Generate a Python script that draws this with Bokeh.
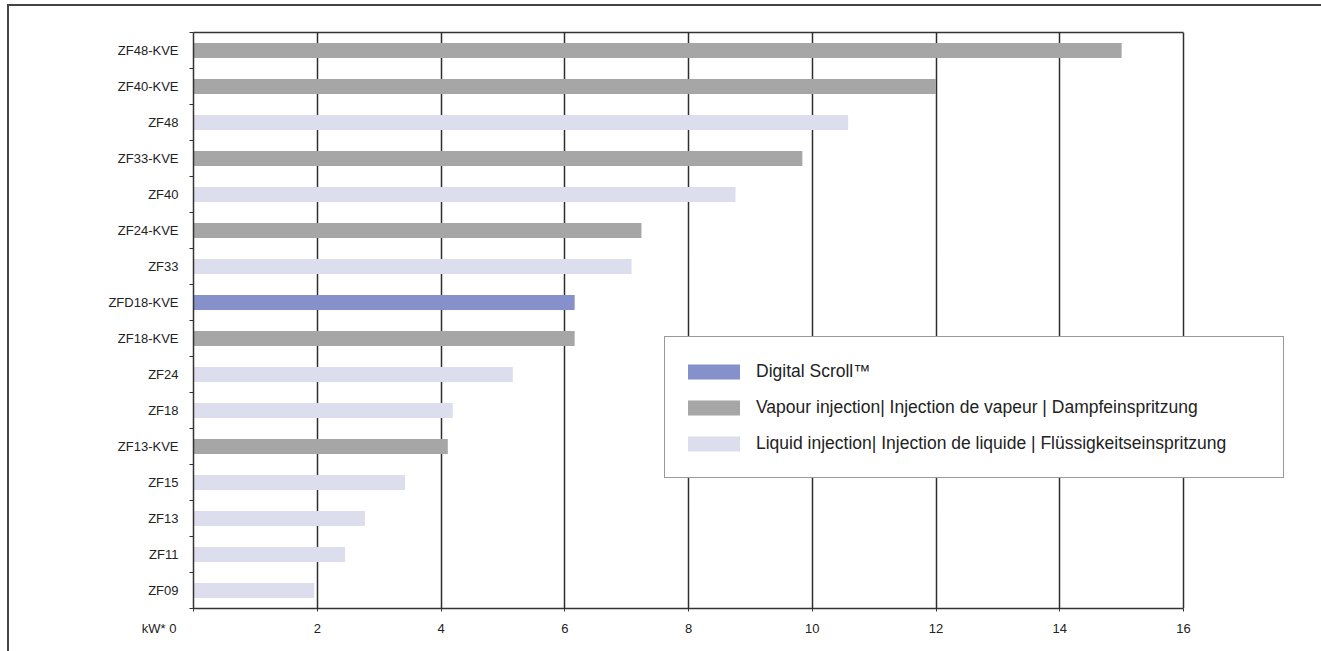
from bokeh.plotting import figure
from bokeh.models import (Range1d, FixedTicker, Legend, LegendItem,
                          ColumnDataSource, LinearAxis)
from bokeh.embed import file_html
from bokeh.resources import INLINE

# ---- data (top to bottom as in the chart) ----
models = ["ZF48-KVE", "ZF40-KVE", "ZF48", "ZF33-KVE", "ZF40", "ZF24-KVE",
          "ZF33", "ZFD18-KVE", "ZF18-KVE", "ZF24", "ZF18", "ZF13-KVE",
          "ZF15", "ZF13", "ZF11", "ZF09"]
capacity_kw = [15.0, 12.0, 10.58, 9.84, 8.76, 7.24,
               7.08, 6.16, 6.16, 5.16, 4.19, 4.11,
               3.42, 2.77, 2.45, 1.95]
kinds = ["vapour", "vapour", "liquid", "vapour", "liquid", "vapour",
         "liquid", "digital", "vapour", "liquid", "liquid", "vapour",
         "liquid", "liquid", "liquid", "liquid"]
x_ticks = [0, 2, 4, 6, 8, 10, 12, 14, 16]
x_unit = "kW*"

series_order = ["digital", "vapour", "liquid"]
series_labels = {
    "digital": "Digital Scroll\u2122",
    "vapour": "Vapour injection| Injection de vapeur | Dampfeinspritzung",
    "liquid": "Liquid injection| Injection de liquide | Fl\u00fcssigkeitseinspritzung",
}
series_colors = {"digital": "#8690cb", "vapour": "#a6a6a6", "liquid": "#dcdeee"}

FONT = "Liberation Sans"
n = len(models)
ypos = [n - 1 - i for i in range(n)]
x_min, x_max = x_ticks[0], x_ticks[-1]
# the frame is widened past the last tick so the legend box can overhang it
frame_px, axis_px = 1107, 990
x_end = x_max * frame_px / axis_px

p = figure(width=1318, height=650, output_backend="svg", toolbar_location=None,
           x_range=Range1d(x_min, x_end), y_range=Range1d(-0.5, n - 0.5),
           min_border_left=184, min_border_right=27,
           min_border_top=26, min_border_bottom=48)
p.styles = {"margin-left": "9px", "margin-top": "6px",
            "box-shadow": "-2px -2px 0px 0px #444444"}
p.background_fill_color = "white"
p.border_fill_color = "white"
p.outline_line_color = None

legend_items = []
for kind in series_order:
    idx = [i for i, k in enumerate(kinds) if k == kind]
    src = ColumnDataSource(dict(y=[ypos[i] for i in idx],
                                right=[capacity_kw[i] for i in idx]))
    r = p.hbar(y="y", right="right", left=0, height=0.42, source=src,
               fill_color=series_colors[kind], line_color=None)
    legend_items.append(LegendItem(label=series_labels[kind], renderers=[r]))

p.ygrid.grid_line_color = None
p.xgrid.ticker = FixedTicker(ticks=x_ticks[1:])
p.xgrid.grid_line_color = "#2e2e2e"
p.xgrid.grid_line_width = 1.5

# bottom x axis; zero label carries the unit, padded so it sits left of the axis
xa = p.xaxis[0]
xa.bounds = (x_min, x_max)
xa.ticker = FixedTicker(ticks=x_ticks)
xa.major_label_overrides = {0: x_unit + " 0" + "\u00a0" * 19}
xa.axis_line_color = "#333333"
xa.axis_line_width = 1.5
xa.major_tick_line_color = "#333333"
xa.major_tick_in = 0
xa.major_tick_out = 3
xa.minor_tick_line_color = None
xa.major_label_standoff = 9
xa.major_label_text_font = FONT
xa.major_label_text_font_size = "13px"
xa.major_label_text_color = "#222222"

# top border of the plot box
top_axis = LinearAxis(bounds=(x_min, x_max), ticker=FixedTicker(ticks=[]),
                      axis_line_color="#333333", axis_line_width=1.5,
                      major_tick_line_color=None, minor_tick_line_color=None,
                      major_label_text_font_size="0px", major_label_standoff=0)
p.add_layout(top_axis, "above")

ya = p.yaxis[0]
ya.ticker = FixedTicker(ticks=sorted(ypos),
                        minor_ticks=[b - 0.5 for b in range(n + 1)])
ya.major_label_overrides = {ypos[i]: models[i] for i in range(n)}
ya.axis_line_color = "#333333"
ya.axis_line_width = 1.5
ya.major_tick_line_color = None
ya.major_tick_in = 0
ya.major_tick_out = 0
ya.minor_tick_line_color = "#333333"
ya.minor_tick_in = 0
ya.minor_tick_out = 4
ya.major_label_standoff = 11
ya.major_label_text_font = FONT
ya.major_label_text_font_size = "13px"
ya.major_label_text_color = "#222222"

legend = Legend(items=legend_items, location=(471, 130),
                glyph_width=65, glyph_height=19, label_height=36,
                label_standoff=10, spacing=0, padding=16,
                label_width=511,
                label_text_font=FONT, label_text_font_size="17.5px",
                label_text_color="#222222",
                border_line_color="#333333", border_line_width=1.5,
                background_fill_color="white", background_fill_alpha=1.0)
p.add_layout(legend, "center")

open("out.html", "w").write(file_html(p, INLINE))
